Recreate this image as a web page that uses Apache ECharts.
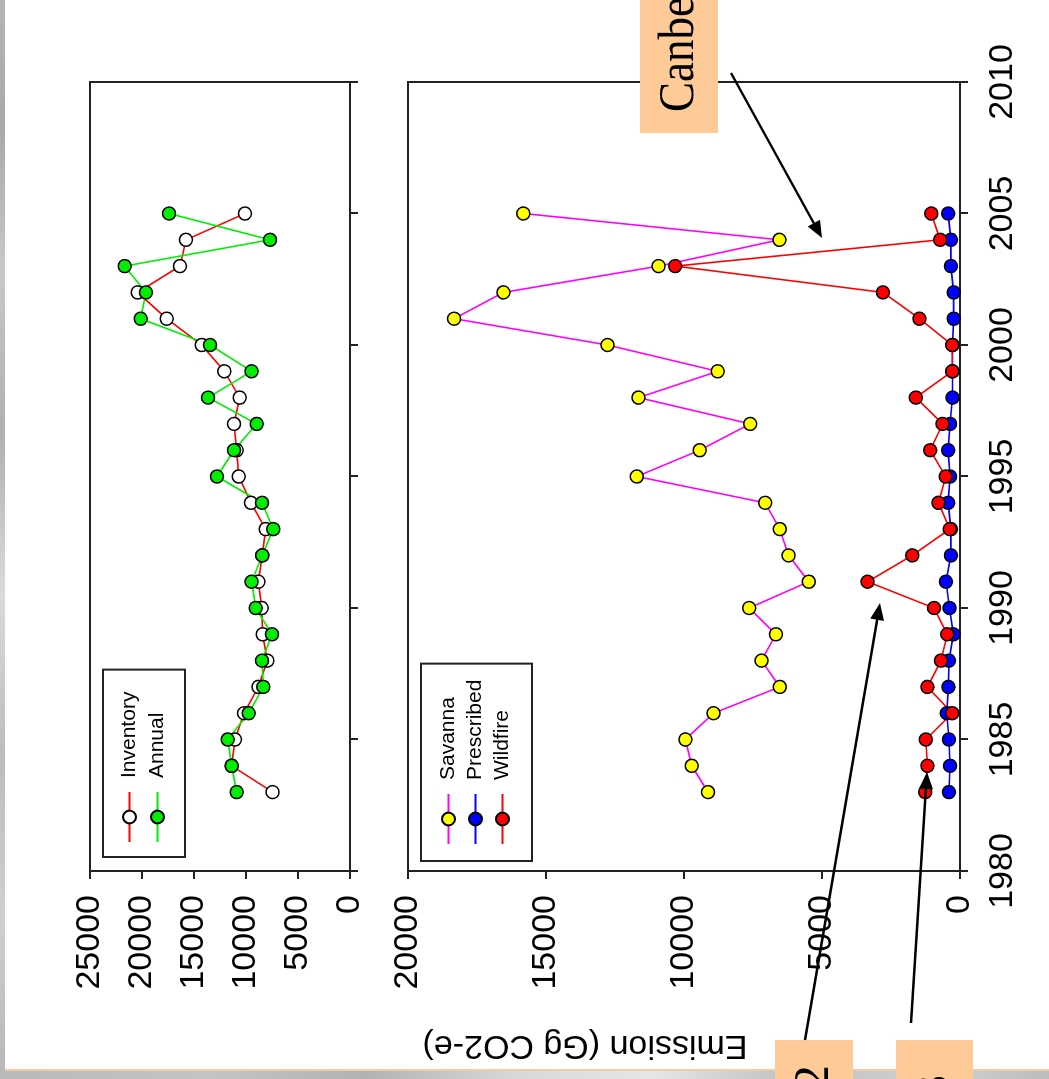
<!DOCTYPE html>
<html>
<head>
<meta charset="utf-8">
<title>Emission</title>
<script src="https://cdn.jsdelivr.net/npm/echarts@6/dist/echarts.min.js"></script>
<style>
  html, body { margin: 0; padding: 0; width: 1049px; height: 1079px; overflow: hidden; background: #fff; }
  #edgeL { position: absolute; left: 0; top: 0; width: 5px; height: 1079px;
           background: linear-gradient(to bottom, #b4b4b4 0%, #a9a9a9 12%, #c8c8c8 25%, #b0b0b0 40%, #dadada 55%, #bdbdbd 70%, #cfcfcf 85%, #b7b7b7 100%); }
  #edgeB { position: absolute; left: 0; top: 1071px; width: 1049px; height: 8px;
           background: linear-gradient(to right, #b9b9b9 0%, #c4c4c4 20%, #b2b2b2 35%, #d9d9d9 50%, #e6e6e6 62%, #c2c2c2 75%, #d0d0d0 90%, #bcbcbc 100%); }
  #rule  { position: absolute; left: 5px; top: 1069px; width: 1044px; height: 2px; background: #f8caa0; }
  #chart { position: absolute; left: 0; top: 0; width: 1079px; height: 1049px;
           transform-origin: 0 0; transform: translate(0, 1079px) rotate(-90deg); }
</style>
</head>
<body>
<div id="edgeL"></div>
<div id="rule"></div>
<div id="edgeB"></div>
<div id="chart"></div>
<script>
// Years of the inventory
const years = [1983, 1984, 1985, 1986, 1987, 1988, 1989, 1990, 1991, 1992, 1993, 1994,
               1995, 1996, 1997, 1998, 1999, 2000, 2001, 2002, 2003, 2004, 2005];

// Total emissions (Gg CO2-e)
const inventory = [7440, 11380, 11060, 10190, 8810, 7950, 8400, 8490, 8810, 8430, 8110, 9520,
                   10700, 10900, 11150, 10610, 12080, 14260, 17630, 20420, 16350, 15770, 10100];
const annual = [10900, 11380, 11760, 9740, 8330, 8460, 7500, 9070, 9460, 8430, 7370, 8460,
                12790, 11150, 8970, 13650, 9460, 13460, 20130, 19620, 21670, 7690, 17400];

// Emissions by fire type (Gg CO2-e)
const savanna = [9130, 9720, 9950, 8930, 6530, 7190, 6670, 7640, 5480, 6210, 6530, 7060,
                 11710, 9430, 7600, 11650, 8780, 12770, 18330, 16540, 10920, 6540, 15820];
const prescribed = [400, 360, 400, 480, 420, 400, 240, 380, 510, 330, 330, 430,
                    360, 430, 360, 270, 270, 270, 230, 230, 330, 330, 430];
const wildfire = [1260, 1180, 1240, 280, 1180, 690, 460, 940, 3350, 1730, 370, 780,
                  520, 1080, 630, 1600, 280, 280, 1470, 2790, 10320, 720, 1040];

// Axis ranges / tick steps
const yearMin = 1980, yearMax = 2010, yearStep = 5;
const totalMax = 25000, fireMax = 20000, valueStep = 5000;

const FONT = '"Liberation Sans", Arial, sans-serif';
const SERIF = '"Liberation Serif", "Times New Roman", serif';
const INK = '#222';

const pairs = arr => years.map((y, i) => [y, arr[i]]);
const plain = v => String(v);

function yearAxis(gridIndex, showLabels) {
  return {
    type: 'value', gridIndex, min: yearMin, max: yearMax, interval: yearStep,
    axisLine: { show: true, onZero: false, lineStyle: { color: INK, width: 2 } },
    axisTick: { show: true, inside: false, length: 8, lineStyle: { color: INK, width: 2 } },
    axisLabel: { show: showLabels, fontSize: 34, fontFamily: FONT, color: '#000', margin: 26,
                 formatter: plain },
    splitLine: { show: false }
  };
}
function valueAxis(gridIndex, max) {
  return {
    type: 'value', gridIndex, min: 0, max, interval: valueStep,
    axisLine: { show: true, onZero: false, lineStyle: { color: INK, width: 2 } },
    axisTick: { show: true, inside: false, length: 8, lineStyle: { color: INK, width: 2 } },
    axisLabel: { show: true, fontSize: 34, fontFamily: FONT, color: '#000', margin: 24,
                 formatter: plain },
    splitLine: { show: false }
  };
}
function lineSeries(name, data, xi, lineColor, fill) {
  return {
    name, type: 'line', xAxisIndex: xi, yAxisIndex: xi, data: pairs(data),
    symbol: 'circle', symbolSize: 13, showAllSymbol: true,
    lineStyle: { color: lineColor, width: 1.6 },
    itemStyle: { color: fill, borderColor: '#000', borderWidth: 1.5 },
    emphasis: { disabled: true }
  };
}

// Arrow used for the call-outs
function arrow(x1, y1, x2, y2) {
  const dx = x2 - x1, dy = y2 - y1, len = Math.hypot(dx, dy);
  const ux = dx / len, uy = dy / len, L = 17, W = 7;
  const bx = x2 - ux * L, by = y2 - uy * L;
  return [
    { type: 'line', z: 100, shape: { x1, y1, x2: bx + ux * 2, y2: by + uy * 2 },
      style: { stroke: '#000', lineWidth: 2.5 } },
    { type: 'polygon', z: 100,
      shape: { points: [[x2, y2], [bx - uy * W, by + ux * W], [bx + uy * W, by - ux * W]] },
      style: { fill: '#000' } }
  ];
}

const legendBase = {
  orient: 'vertical', itemWidth: 50, itemHeight: 16, borderColor: INK, borderWidth: 2,
  borderRadius: 0, backgroundColor: 'transparent', selectedMode: false,
  textStyle: { fontSize: 21, fontFamily: FONT, color: '#000', padding: [0, 0, 0, 9] }
};

const chart = echarts.init(document.getElementById('chart'), null, { renderer: 'canvas' });
chart.setOption({
  animation: false,
  grid: [
    { left: 208, top: 90, width: 789, height: 260, show: true, borderColor: INK, borderWidth: 2,
      backgroundColor: 'transparent', containLabel: false, outerBoundsMode: 'none' },
    { left: 208, top: 408, width: 789, height: 552, show: true, borderColor: INK, borderWidth: 2,
      backgroundColor: 'transparent', containLabel: false, outerBoundsMode: 'none' }
  ],
  xAxis: [yearAxis(0, false), yearAxis(1, true)],
  yAxis: [valueAxis(0, totalMax), valueAxis(1, fireMax)],
  legend: [
    Object.assign({}, legendBase, { data: ['Inventory', 'Annual'], left: 222, top: 103,
      itemGap: 7, padding: [16, 22, 17, 14] }),
    Object.assign({}, legendBase, { data: ['Savanna', 'Prescribed', 'Wildfire'], left: 218, top: 421,
      itemGap: 6, padding: [17, 16, 19, 16] })
  ],
  series: [
    lineSeries('Inventory', inventory, 0, '#ff0000', '#ffffff'),
    lineSeries('Annual', annual, 0, '#00ee00', '#00ee00'),
    lineSeries('Savanna', savanna, 1, '#ff00ff', '#ffff00'),
    lineSeries('Prescribed', prescribed, 1, '#0000ff', '#0000ff'),
    lineSeries('Wildfire', wildfire, 1, '#ff0000', '#ff0000')
  ],
  graphic: [
    { type: 'text', x: 34, y: 585, rotation: Math.PI / 2,
      style: { text: 'Emission (Gg CO2-e)', fontSize: 34, fontFamily: FONT, fill: '#000',
               textAlign: 'center', textVerticalAlign: 'middle' } },
    { type: 'rect', z: 90, shape: { x: 946, y: 640, width: 140, height: 78 }, style: { fill: '#fdca98' } },
    { type: 'text', z: 91, x: 967, y: 680, scaleX: 0.9,
      style: { text: 'Canberra', fontSize: 50, fontFamily: SERIF, fill: '#000',
               textAlign: 'left', textVerticalAlign: 'middle' } },
    { type: 'rect', z: 90, shape: { x: -10, y: 775, width: 49, height: 78 }, style: { fill: '#fdca98' } },
    { type: 'text', z: 91, x: 14, y: 815,
      style: { text: '2', fontSize: 50, fontFamily: SERIF, fill: '#000',
               textAlign: 'right', textVerticalAlign: 'middle' } },
    { type: 'rect', z: 90, shape: { x: -10, y: 896, width: 49, height: 77 }, style: { fill: '#fdca98' } },
    { type: 'text', z: 91, x: 4, y: 935,
      style: { text: '3', fontSize: 50, fontFamily: SERIF, fill: '#000',
               textAlign: 'right', textVerticalAlign: 'middle' } },
    ...arrow(1006, 731, 841, 822),
    ...arrow(39, 805, 476, 880),
    ...arrow(56, 911, 307, 927)
  ]
});
</script>
</body>
</html>
